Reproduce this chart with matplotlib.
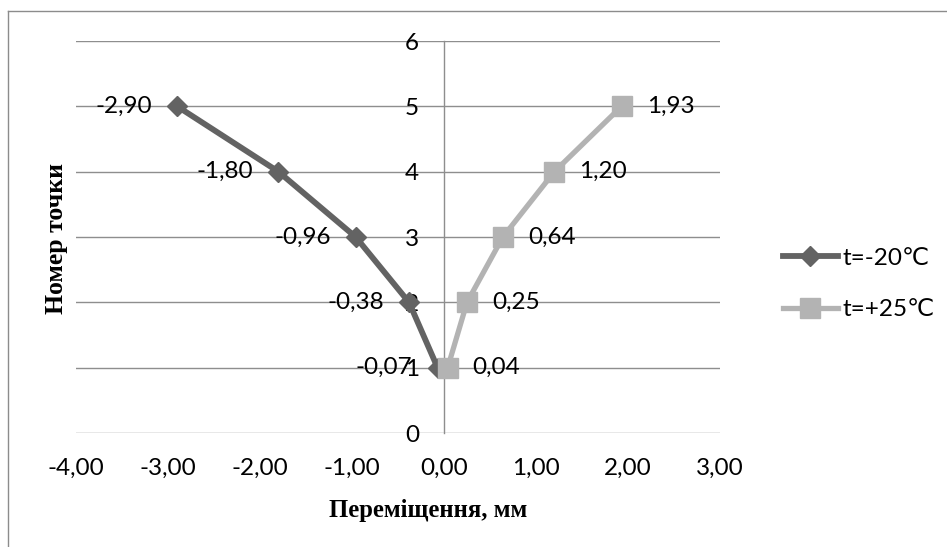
import matplotlib
matplotlib.use("Agg")
import matplotlib.pyplot as plt
from matplotlib.lines import Line2D

# ---- data ----
points = [1, 2, 3, 4, 5]
cold_disp = [-0.07, -0.38, -0.96, -1.80, -2.90]
warm_disp = [0.04, 0.25, 0.64, 1.20, 1.93]
series_names = ["t=-20\u2103", "t=+25\u2103"]
x_ticks = [-4, -3, -2, -1, 0, 1, 2, 3]
y_ticks = [0, 1, 2, 3, 4, 5, 6]
x_label = "Переміщення, мм"
y_label = "Номер точки"

W, H = 947, 547
DPI = 100
fig = plt.figure(figsize=(W / DPI, H / DPI), dpi=DPI)
fig.patch.set_facecolor("white")

SANS = ["Lato", "DejaVu Sans"]
SERIF = ["Liberation Serif", "DejaVu Serif"]
FS = 17.5

def px(x, y):
    return x / W, 1 - y / H

# outer chart border (left and top edges visible)
border_c = "#8c8c8c"
fig.add_artist(Line2D([8 / W, 8 / W], [0, 1 - 11 / H], transform=fig.transFigure,
                      color=border_c, lw=1.0))
fig.add_artist(Line2D([8 / W, 1], [1 - 11 / H, 1 - 11 / H], transform=fig.transFigure,
                      color=border_c, lw=1.0))

left, right = 76 / W, 720 / W
bottom, top = 1 - 433 / H, 1 - 41 / H
ax = fig.add_axes([left, bottom, right - left, top - bottom])
ax.set_xlim(-4, 3)
ax.set_ylim(0, 6)

grid_c = "#8e8e8e"
for s in ["top", "right", "bottom"]:
    ax.spines[s].set_visible(False)
ax.spines["left"].set_position(("data", 0))
ax.spines["left"].set_color(grid_c)
ax.spines["left"].set_linewidth(1.0)
ax.spines["left"].set_zorder(1)

ax.set_yticks(y_ticks)
ax.set_xticks(x_ticks)
ax.set_xticklabels([f"{v:.2f}".replace(".", ",") for v in x_ticks])
ax.set_yticklabels([str(v) for v in y_ticks])
ax.yaxis.grid(True, color=grid_c, lw=1.0, zorder=0)
ax.set_axisbelow(True)
ax.tick_params(axis="both", length=0, labelsize=FS, colors="black")
ax.tick_params(axis="y", pad=18)
ax.tick_params(axis="x", pad=18)
for lab in ax.get_xticklabels() + ax.get_yticklabels():
    lab.set_family(SANS)

dark = "#636363"
light = "#b3b3b3"
ax.plot(cold_disp, points, color=dark, lw=4.2, marker="D", ms=10,
        markeredgecolor=dark, label=series_names[0], zorder=3, clip_on=False)
ax.plot(warm_disp, points, color=light, lw=3.8, marker="s", ms=14,
        markeredgecolor=light, label=series_names[1], zorder=4, clip_on=False)

for xv, yv in zip(cold_disp, points):
    ax.annotate(f"{xv:.2f}".replace(".", ","), (xv, yv), xytext=(-18, 0),
                textcoords="offset points", ha="right", va="center",
                fontsize=FS, family=SANS, zorder=5)
for xv, yv in zip(warm_disp, points):
    ax.annotate(f"{xv:.2f}".replace(".", ","), (xv, yv), xytext=(18, 0),
                textcoords="offset points", ha="left", va="center",
                fontsize=FS, family=SANS, zorder=5)

leg = ax.legend(loc="center left", bbox_to_anchor=px(783, 284),
                bbox_transform=fig.transFigure, frameon=False,
                prop={"family": SANS, "size": FS}, handlelength=2.26,
                handletextpad=0.2, labelspacing=1.25, borderpad=0,
                borderaxespad=0)

fig.text(*px(428, 510), x_label, ha="center", va="center", fontsize=17.8,
         fontweight="bold", family=SERIF)
fig.text(*px(56, 238), y_label, ha="center", va="center", fontsize=18.5,
         fontweight="bold", family=SERIF, rotation=90)

fig.savefig("out.png", dpi=DPI, facecolor="white")
